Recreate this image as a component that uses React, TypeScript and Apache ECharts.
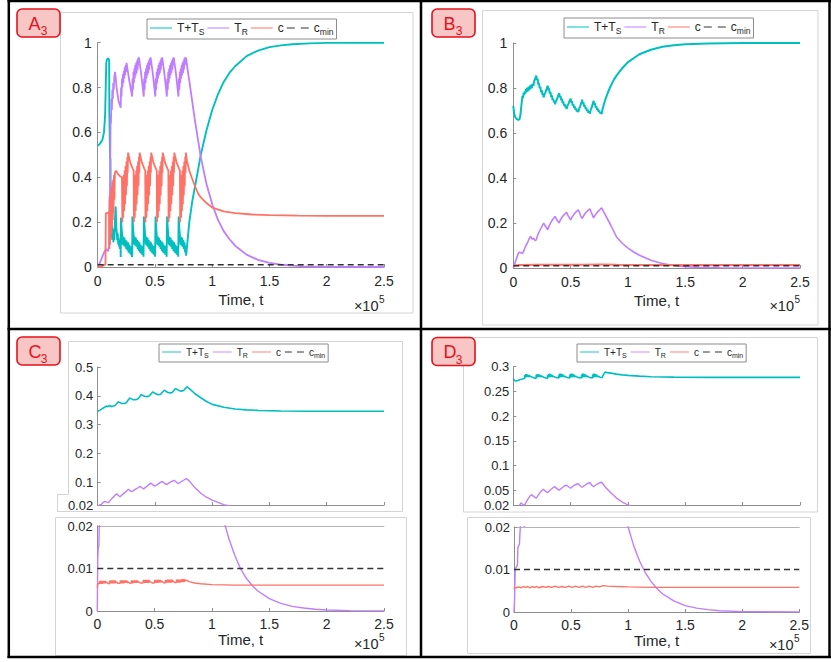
import React, { useEffect, useRef } from 'react';
import * as echarts from 'echarts';

// ---------- tick values ----------
const X_TICKS = [0, 0.5, 1, 1.5, 2, 2.5];
const AB_TICKS = [0, 0.2, 0.4, 0.6, 0.8, 1];
const C_TOP_TICKS = [0.02, 0.1, 0.2, 0.3, 0.4, 0.5];
const D_TOP_TICKS = [0.02, 0.05, 0.1, 0.15, 0.2, 0.25, 0.3];
const LOW_TICKS = [0, 0.01, 0.02];
const SERIES_NAMES = ['T+T_S', 'T_R', 'c', 'c_min'];
const PANEL_LETTERS = ['A', 'B', 'C', 'D'];
const PANEL_INDEX = '3';
const X_NAME = 'Time, t';

// c_min threshold
const C_MIN = [[0, 0.01], [2.5, 0.01]];

// ---------- Panel A (time in units of 1e5) ----------
const A_TTS = [
  [0,0.54],[0.02,0.55],[0.04,0.565],[0.055,0.6],[0.065,0.68],[0.07,0.8],[0.075,0.91],[0.08,0.925],[0.095,0.93],[0.1,0.92],
  [0.102,0.68],[0.106,0.68],[0.108,0.49],[0.111,0.48],[0.114,0.3],[0.117,0.18],[0.121,0.13],[0.125,0.19],[0.129,0.12],[0.133,0.17],
  [0.137,0.11],[0.141,0.15],[0.145,0.12],[0.152,0.22],[0.157,0.27],[0.162,0.18],[0.167,0.15],[0.171,0.12],[0.175,0.15],[0.179,0.1],
  [0.183,0.13],[0.187,0.09],[0.191,0.12],[0.195,0.08],[0.199,0.1],
  [0.201,0.045],[0.203,0.22],[0.209,0.17],[0.215,0.135],[0.219,0.1],[0.224,0.135],[0.229,0.095],[0.234,0.13],[0.239,0.09],[0.244,0.12],
  [0.249,0.08],[0.254,0.115],[0.259,0.075],[0.264,0.11],[0.269,0.065],[0.274,0.1],[0.279,0.06],[0.284,0.095],[0.289,0.055],[0.294,0.09],[0.299,0.048],
  [0.301,0.045],[0.303,0.225],[0.309,0.17],[0.315,0.135],[0.319,0.1],[0.324,0.135],[0.329,0.095],[0.334,0.13],[0.339,0.09],[0.344,0.12],
  [0.349,0.08],[0.354,0.115],[0.359,0.072],[0.364,0.11],[0.369,0.065],[0.374,0.1],[0.379,0.06],[0.384,0.095],[0.389,0.055],[0.394,0.09],[0.4,0.046],
  [0.402,0.045],[0.404,0.225],[0.41,0.17],[0.416,0.135],[0.42,0.1],[0.425,0.135],[0.43,0.095],[0.435,0.13],[0.44,0.088],[0.445,0.12],
  [0.45,0.08],[0.455,0.115],[0.46,0.072],[0.465,0.11],[0.47,0.065],[0.475,0.1],[0.48,0.06],[0.485,0.095],[0.49,0.055],[0.495,0.09],[0.501,0.046],
  [0.503,0.045],[0.505,0.225],[0.511,0.17],[0.517,0.135],[0.521,0.1],[0.526,0.135],[0.531,0.095],[0.536,0.13],[0.541,0.088],[0.546,0.12],
  [0.551,0.08],[0.556,0.115],[0.561,0.072],[0.566,0.11],[0.571,0.065],[0.576,0.1],[0.581,0.06],[0.586,0.095],[0.591,0.055],[0.596,0.09],[0.602,0.046],
  [0.604,0.045],[0.606,0.225],[0.612,0.17],[0.618,0.135],[0.622,0.1],[0.627,0.135],[0.632,0.095],[0.637,0.13],[0.642,0.088],[0.647,0.12],
  [0.652,0.08],[0.657,0.115],[0.662,0.072],[0.667,0.11],[0.672,0.065],[0.677,0.1],[0.682,0.06],[0.687,0.095],[0.692,0.055],[0.697,0.09],[0.703,0.046],
  [0.705,0.045],[0.707,0.225],[0.713,0.17],[0.719,0.135],[0.723,0.1],[0.728,0.135],[0.733,0.095],[0.738,0.13],[0.743,0.088],[0.748,0.12],
  [0.753,0.08],[0.758,0.11],[0.763,0.065],[0.768,0.095],[0.772,0.05],
  [0.785,0.12],[0.8,0.2],[0.825,0.29],[0.85,0.36],[0.875,0.43],[0.9,0.5],[0.95,0.61],[1.0,0.7],[1.05,0.77],[1.1,0.825],
  [1.15,0.865],[1.2,0.895],[1.3,0.94],[1.4,0.965],[1.5,0.98],[1.6,0.988],[1.7,0.993],[1.85,0.997],[2.0,0.999],[2.25,1.0],[2.5,1.0]
];
const A_TR = [
  [0,0],[0.02,0.02],[0.04,0.045],[0.06,0.07],[0.075,0.08],[0.09,0.07],[0.1,0.09],[0.103,0.31],[0.107,0.32],[0.11,0.5],
  [0.113,0.68],[0.116,0.64],[0.12,0.75],[0.124,0.7],[0.128,0.79],[0.132,0.75],[0.136,0.82],[0.14,0.79],[0.145,0.85],[0.152,0.87],
  [0.165,0.8],[0.182,0.74],[0.201,0.71],
  [0.204,0.8],[0.208,0.76],[0.212,0.84],[0.216,0.8],[0.22,0.86],[0.224,0.82],[0.228,0.875],[0.232,0.84],[0.236,0.89],[0.24,0.855],
  [0.244,0.9],[0.248,0.87],[0.252,0.91],[0.276,0.83],[0.301,0.76],
  [0.304,0.84],[0.308,0.79],[0.312,0.87],[0.316,0.82],[0.32,0.885],[0.324,0.84],[0.328,0.9],[0.332,0.855],[0.336,0.91],[0.34,0.865],
  [0.344,0.92],[0.348,0.88],[0.352,0.93],[0.356,0.9],[0.36,0.935],[0.38,0.86],[0.402,0.76],
  [0.406,0.84],[0.41,0.79],[0.414,0.87],[0.418,0.82],[0.422,0.885],[0.426,0.84],[0.43,0.9],[0.434,0.855],[0.438,0.91],[0.442,0.865],
  [0.446,0.92],[0.45,0.88],[0.454,0.93],[0.458,0.9],[0.462,0.935],[0.482,0.86],[0.503,0.76],
  [0.507,0.84],[0.511,0.79],[0.515,0.87],[0.519,0.82],[0.523,0.885],[0.527,0.84],[0.531,0.9],[0.535,0.855],[0.539,0.91],[0.543,0.865],
  [0.547,0.92],[0.551,0.88],[0.555,0.93],[0.559,0.9],[0.563,0.935],[0.583,0.86],[0.604,0.76],
  [0.608,0.84],[0.612,0.79],[0.616,0.87],[0.62,0.82],[0.624,0.885],[0.628,0.84],[0.632,0.9],[0.636,0.855],[0.64,0.91],[0.644,0.865],
  [0.648,0.92],[0.652,0.88],[0.656,0.93],[0.66,0.9],[0.664,0.935],[0.684,0.86],[0.705,0.76],
  [0.709,0.84],[0.713,0.79],[0.717,0.87],[0.721,0.82],[0.725,0.885],[0.729,0.84],[0.733,0.9],[0.737,0.855],[0.741,0.91],[0.745,0.865],
  [0.749,0.92],[0.753,0.88],[0.757,0.93],[0.761,0.9],[0.765,0.935],[0.772,0.93],
  [0.785,0.88],[0.8,0.83],[0.825,0.74],[0.85,0.65],[0.875,0.57],[0.9,0.49],[0.95,0.37],[1.0,0.28],[1.05,0.21],[1.1,0.16],
  [1.15,0.125],[1.2,0.095],[1.3,0.055],[1.4,0.032],[1.5,0.018],[1.6,0.01],[1.7,0.006],[1.8,0.003],[2.0,0.001],[2.25,0.0003],[2.5,0]
];
const A_C = [
  [0,0],[0.02,0.002],[0.05,0.006],[0.068,0.012],[0.071,0.24],[0.085,0.24],[0.099,0.245],[0.102,0.08],[0.105,0.3],[0.108,0.1],
  [0.111,0.32],[0.114,0.12],[0.117,0.34],[0.12,0.15],[0.123,0.36],[0.126,0.18],[0.129,0.38],[0.132,0.21],[0.135,0.39],[0.138,0.24],
  [0.142,0.41],[0.146,0.3],[0.15,0.42],[0.16,0.43],[0.175,0.415],[0.195,0.405],[0.212,0.4],
  [0.215,0.2],[0.219,0.38],[0.223,0.22],[0.227,0.41],[0.231,0.25],[0.235,0.43],[0.239,0.28],[0.243,0.45],[0.247,0.32],[0.251,0.47],
  [0.255,0.36],[0.259,0.49],[0.262,0.42],[0.265,0.51],[0.285,0.465],[0.305,0.44],[0.314,0.43],
  [0.316,0.2],[0.32,0.38],[0.324,0.22],[0.328,0.41],[0.332,0.25],[0.336,0.43],[0.34,0.28],[0.344,0.45],[0.348,0.32],[0.352,0.47],
  [0.356,0.36],[0.36,0.49],[0.363,0.42],[0.366,0.51],[0.386,0.465],[0.406,0.44],[0.415,0.43],
  [0.417,0.2],[0.421,0.38],[0.425,0.22],[0.429,0.41],[0.433,0.25],[0.437,0.43],[0.441,0.28],[0.445,0.45],[0.449,0.32],[0.453,0.47],
  [0.457,0.36],[0.461,0.49],[0.464,0.42],[0.467,0.51],[0.487,0.465],[0.507,0.44],[0.516,0.43],
  [0.518,0.2],[0.522,0.38],[0.526,0.22],[0.53,0.41],[0.534,0.25],[0.538,0.43],[0.542,0.28],[0.546,0.45],[0.55,0.32],[0.554,0.47],
  [0.558,0.36],[0.562,0.49],[0.565,0.42],[0.568,0.51],[0.588,0.465],[0.608,0.44],[0.617,0.43],
  [0.619,0.2],[0.623,0.38],[0.627,0.22],[0.631,0.41],[0.635,0.25],[0.639,0.43],[0.643,0.28],[0.647,0.45],[0.651,0.32],[0.655,0.47],
  [0.659,0.36],[0.663,0.49],[0.666,0.42],[0.669,0.51],[0.689,0.465],[0.709,0.44],[0.718,0.43],
  [0.72,0.2],[0.724,0.38],[0.728,0.22],[0.732,0.41],[0.736,0.25],[0.74,0.43],[0.744,0.28],[0.748,0.45],[0.752,0.32],[0.756,0.47],
  [0.76,0.36],[0.764,0.49],[0.767,0.42],[0.77,0.51],
  [0.78,0.47],[0.8,0.43],[0.82,0.4],[0.85,0.36],[0.875,0.33],[0.9,0.31],[0.95,0.285],[1.0,0.265],[1.1,0.248],[1.2,0.24],
  [1.35,0.234],[1.5,0.231],[1.75,0.229],[2.0,0.228],[2.5,0.228]
];

// ---------- Panel B ----------
const B_TTS = [
  [0,0.72],[0.004,0.7],[0.01,0.68],[0.02,0.668],[0.03,0.662],[0.045,0.658],[0.055,0.662],[0.062,0.68],[0.068,0.71],[0.074,0.74],
  [0.08,0.765],[0.085,0.755],[0.09,0.78],[0.095,0.77],[0.1,0.785],[0.105,0.775],[0.11,0.795],[0.115,0.782],[0.12,0.8],[0.126,0.785],
  [0.132,0.805],[0.138,0.79],[0.144,0.81],[0.15,0.795],[0.156,0.815],[0.162,0.8],[0.168,0.818],[0.175,0.81],[0.182,0.83],[0.19,0.84],[0.2,0.855],
  [0.206,0.835],[0.212,0.842],[0.218,0.815],[0.224,0.822],[0.23,0.798],[0.236,0.805],[0.242,0.782],[0.248,0.79],[0.254,0.77],[0.259,0.776],[0.264,0.758],
  [0.272,0.772],[0.279,0.778],[0.286,0.79],[0.293,0.8],[0.3,0.81],
  [0.306,0.79],[0.312,0.798],[0.318,0.775],[0.324,0.782],[0.33,0.76],[0.336,0.767],[0.342,0.747],[0.348,0.753],[0.354,0.737],[0.359,0.742],[0.364,0.728],
  [0.372,0.742],[0.379,0.748],[0.386,0.758],[0.393,0.768],[0.4,0.777],
  [0.406,0.758],[0.412,0.765],[0.418,0.745],[0.424,0.752],[0.43,0.733],[0.436,0.74],[0.442,0.722],[0.448,0.728],[0.454,0.714],[0.459,0.72],[0.465,0.707],
  [0.473,0.722],[0.48,0.728],[0.487,0.738],[0.494,0.746],[0.5,0.752],
  [0.506,0.735],[0.512,0.741],[0.518,0.722],[0.524,0.728],[0.53,0.712],[0.536,0.718],[0.542,0.703],[0.548,0.709],[0.554,0.696],[0.56,0.702],[0.567,0.693],
  [0.575,0.71],[0.582,0.716],[0.589,0.728],[0.595,0.738],[0.6,0.748],
  [0.606,0.73],[0.612,0.736],[0.618,0.717],[0.624,0.723],[0.63,0.707],[0.636,0.713],[0.642,0.698],[0.648,0.704],[0.655,0.69],[0.661,0.696],[0.668,0.686],
  [0.676,0.705],[0.683,0.712],[0.69,0.725],[0.696,0.735],[0.7,0.744],
  [0.706,0.726],[0.712,0.732],[0.718,0.713],[0.724,0.719],[0.73,0.703],[0.736,0.709],[0.742,0.695],[0.748,0.7],[0.755,0.688],[0.762,0.693],[0.77,0.684],
  [0.78,0.71],[0.8,0.745],[0.825,0.78],[0.85,0.81],[0.875,0.835],[0.9,0.855],[0.95,0.888],[1.0,0.915],[1.1,0.95],[1.2,0.97],
  [1.3,0.983],[1.4,0.99],[1.5,0.994],[1.7,0.998],[2.0,1.0],[2.5,1.0]
];
const B_TR = [
  [0,0],[0.01,0.015],[0.02,0.03],[0.03,0.045],[0.044,0.066],[0.055,0.07],[0.067,0.068],[0.08,0.065],[0.09,0.075],[0.1,0.088],
  [0.11,0.1],[0.12,0.108],[0.13,0.12],[0.14,0.132],[0.151,0.14],[0.165,0.128],[0.178,0.132],[0.19,0.122],[0.2,0.125],
  [0.215,0.15],[0.225,0.16],[0.235,0.17],[0.245,0.18],[0.255,0.19],[0.265,0.2],[0.275,0.19],[0.285,0.182],[0.3,0.17],
  [0.31,0.185],[0.32,0.195],[0.33,0.205],[0.34,0.213],[0.35,0.22],[0.363,0.229],[0.373,0.22],[0.385,0.21],[0.4,0.2],
  [0.41,0.213],[0.42,0.222],[0.43,0.229],[0.44,0.235],[0.452,0.241],[0.465,0.247],[0.475,0.235],[0.487,0.225],[0.5,0.214],
  [0.512,0.226],[0.525,0.236],[0.538,0.244],[0.552,0.252],[0.567,0.259],[0.577,0.247],[0.588,0.232],[0.6,0.22],
  [0.613,0.232],[0.626,0.242],[0.64,0.25],[0.654,0.257],[0.668,0.263],[0.678,0.25],[0.69,0.235],[0.7,0.223],
  [0.714,0.235],[0.728,0.245],[0.742,0.253],[0.756,0.26],[0.77,0.267],
  [0.8,0.238],[0.85,0.19],[0.9,0.138],[0.95,0.11],[1.0,0.088],[1.05,0.071],[1.1,0.057],[1.2,0.034],[1.3,0.02],[1.4,0.011],
  [1.5,0.006],[1.6,0.0035],[1.8,0.001],[2.0,0.0003],[2.5,0]
];
const B_C = [
  [0,0.006],[0.01,0.011],[0.05,0.013],[0.2,0.014],[0.4,0.015],[0.6,0.015],[0.77,0.016],[0.9,0.014],[1.2,0.013],[2.5,0.013]
];

// ---------- Panel C ----------
const C_TTS = [
  [0,0.346],[0.02,0.35],[0.04,0.355],[0.06,0.36],[0.075,0.364],[0.09,0.362],[0.105,0.366],[0.12,0.362],[0.15,0.366],[0.165,0.372],
  [0.18,0.379],[0.19,0.377],[0.21,0.373],[0.23,0.373],[0.25,0.376],[0.265,0.384],[0.28,0.392],[0.29,0.39],[0.31,0.386],[0.33,0.386],
  [0.35,0.389],[0.365,0.396],[0.38,0.404],[0.39,0.402],[0.41,0.398],[0.43,0.397],[0.45,0.399],[0.465,0.406],[0.48,0.413],[0.49,0.411],
  [0.51,0.406],[0.53,0.404],[0.55,0.405],[0.565,0.412],[0.58,0.419],[0.59,0.417],[0.61,0.412],[0.63,0.41],[0.65,0.411],[0.665,0.418],
  [0.68,0.425],[0.69,0.423],[0.71,0.418],[0.73,0.416],[0.75,0.418],[0.765,0.425],[0.78,0.431],[0.8,0.425],[0.85,0.407],[0.9,0.393],
  [0.95,0.38],[1.0,0.37],[1.1,0.36],[1.2,0.354],[1.3,0.351],[1.4,0.349],[1.6,0.347],[1.8,0.346],[2.5,0.346]
];
const C_TR = [
  [0,0],[0.002,0.006],[0.004,0.0125],[0.008,0.0148],[0.014,0.0152],[0.016,0.0185],[0.018,0.021],[0.03,0.022],[0.045,0.028],[0.064,0.033],
  [0.08,0.03],[0.093,0.028],[0.11,0.036],[0.13,0.045],[0.15,0.053],[0.166,0.059],[0.18,0.053],[0.195,0.049],[0.215,0.056],[0.235,0.063],
  [0.25,0.068],[0.268,0.075],[0.283,0.07],[0.297,0.066],[0.315,0.071],[0.335,0.076],[0.352,0.08],[0.37,0.085],[0.385,0.08],[0.4,0.076],
  [0.42,0.082],[0.44,0.089],[0.465,0.096],[0.482,0.09],[0.5,0.086],[0.52,0.091],[0.54,0.097],[0.565,0.102],[0.582,0.096],[0.6,0.091],
  [0.62,0.096],[0.645,0.102],[0.667,0.106],[0.685,0.1],[0.703,0.094],[0.725,0.1],[0.75,0.106],[0.775,0.112],
  [0.8,0.103],[0.85,0.08],[0.9,0.061],[0.95,0.047],[1.0,0.037],[1.05,0.029],[1.1,0.0215],[1.15,0.0168],[1.2,0.013],[1.25,0.0099],
  [1.3,0.0077],[1.35,0.006],[1.4,0.0047],[1.5,0.0029],[1.6,0.0018],[1.7,0.0011],[1.8,0.0007],[1.9,0.0004],[2.0,0.00025],[2.2,0.0001],[2.5,0.00003]
];
const C_C = [
  [0,0.0055],[0.003,0.0064],[0.012,0.0064],[0.018,0.0066],
  [0.022,0.0071],[0.026,0.0064],[0.03,0.0071],[0.034,0.0064],[0.038,0.0071],[0.042,0.0064],[0.046,0.0071],[0.05,0.0065],[0.054,0.0071],[0.058,0.0065],
  [0.062,0.0071],[0.066,0.0065],[0.07,0.0071],[0.074,0.0065],[0.078,0.0069],[0.09,0.0065],[0.104,0.0064],
  [0.108,0.0071],[0.112,0.0065],[0.116,0.0072],[0.12,0.0065],[0.124,0.0072],[0.128,0.0065],[0.132,0.0072],[0.136,0.0065],[0.14,0.0072],[0.144,0.0065],
  [0.148,0.0072],[0.152,0.0065],[0.156,0.0072],[0.16,0.0066],[0.164,0.0069],[0.18,0.0065],[0.198,0.0065],
  [0.202,0.0072],[0.206,0.0065],[0.21,0.0072],[0.214,0.0065],[0.218,0.0072],[0.222,0.0065],[0.226,0.0072],[0.23,0.0065],[0.234,0.0072],[0.238,0.0066],
  [0.242,0.0072],[0.246,0.0066],[0.25,0.0072],[0.254,0.0066],[0.258,0.0072],[0.262,0.0066],[0.266,0.0069],[0.28,0.0066],[0.296,0.0065],
  [0.3,0.0072],[0.304,0.0065],[0.308,0.0072],[0.312,0.0066],[0.316,0.0072],[0.32,0.0066],[0.324,0.0072],[0.328,0.0066],[0.332,0.0072],[0.336,0.0066],
  [0.34,0.0072],[0.344,0.0066],[0.348,0.0072],[0.352,0.0066],[0.355,0.007],[0.375,0.0066],[0.398,0.0066],
  [0.402,0.0073],[0.406,0.0066],[0.41,0.0073],[0.414,0.0066],[0.418,0.0073],[0.422,0.0066],[0.426,0.0073],[0.43,0.0066],[0.434,0.0073],[0.438,0.0066],
  [0.442,0.0073],[0.446,0.0066],[0.45,0.0073],[0.454,0.0067],[0.457,0.007],[0.478,0.0066],[0.498,0.0066],
  [0.502,0.0073],[0.506,0.0066],[0.51,0.0073],[0.514,0.0066],[0.518,0.0073],[0.522,0.0066],[0.526,0.0073],[0.53,0.0067],[0.534,0.0073],[0.538,0.0067],
  [0.542,0.0073],[0.546,0.0067],[0.55,0.0073],[0.554,0.0067],[0.558,0.0071],[0.575,0.0067],[0.592,0.0066],
  [0.596,0.0073],[0.6,0.0066],[0.604,0.0073],[0.608,0.0067],[0.612,0.0074],[0.616,0.0067],[0.62,0.0074],[0.624,0.0067],[0.628,0.0074],[0.632,0.0067],
  [0.636,0.0074],[0.64,0.0067],[0.644,0.0074],[0.648,0.0067],[0.652,0.0074],[0.656,0.0068],[0.66,0.0071],[0.675,0.0067],[0.688,0.0067],
  [0.692,0.0074],[0.696,0.0067],[0.7,0.0074],[0.704,0.0067],[0.708,0.0074],[0.712,0.0067],[0.716,0.0074],[0.72,0.0067],[0.724,0.0074],[0.728,0.0068],
  [0.732,0.0074],[0.736,0.0068],[0.74,0.0075],[0.744,0.0068],[0.748,0.0075],[0.752,0.0068],[0.756,0.0075],[0.76,0.0069],[0.765,0.0073],[0.78,0.0072],
  [0.8,0.0069],[0.85,0.0066],[0.9,0.0064],[1.0,0.0062],[1.2,0.0061],[1.5,0.0061],[2.5,0.0061]
];

// ---------- Panel D ----------
const D_TTS = [
  [0,0.276],[0.01,0.272],[0.025,0.271],[0.04,0.272],[0.06,0.274],[0.08,0.275],[0.098,0.276],
  [0.1,0.283],[0.104,0.278],[0.108,0.285],[0.112,0.279],[0.116,0.285],[0.12,0.279],[0.125,0.284],[0.13,0.279],[0.136,0.283],[0.142,0.279],[0.15,0.281],[0.17,0.278],[0.198,0.276],
  [0.2,0.283],[0.204,0.278],[0.208,0.285],[0.212,0.279],[0.216,0.285],[0.22,0.279],[0.225,0.284],[0.23,0.279],[0.236,0.283],[0.242,0.279],[0.25,0.281],[0.27,0.278],[0.298,0.276],
  [0.3,0.283],[0.304,0.278],[0.308,0.285],[0.312,0.279],[0.316,0.286],[0.32,0.279],[0.325,0.285],[0.33,0.279],[0.336,0.283],[0.342,0.279],[0.35,0.281],[0.37,0.278],[0.396,0.277],
  [0.398,0.284],[0.402,0.278],[0.406,0.286],[0.41,0.279],[0.414,0.286],[0.418,0.279],[0.423,0.285],[0.428,0.279],[0.434,0.284],[0.44,0.279],[0.448,0.281],[0.468,0.278],[0.492,0.277],
  [0.494,0.284],[0.498,0.278],[0.502,0.286],[0.506,0.279],[0.51,0.286],[0.514,0.279],[0.519,0.285],[0.524,0.279],[0.53,0.284],[0.536,0.279],[0.544,0.281],[0.564,0.278],[0.594,0.277],
  [0.596,0.284],[0.6,0.278],[0.604,0.286],[0.608,0.279],[0.612,0.286],[0.616,0.279],[0.621,0.285],[0.626,0.279],[0.632,0.284],[0.638,0.279],[0.646,0.281],[0.666,0.278],[0.69,0.277],
  [0.692,0.284],[0.696,0.278],[0.7,0.286],[0.704,0.279],[0.708,0.286],[0.712,0.279],[0.717,0.285],[0.722,0.279],[0.728,0.284],[0.734,0.279],[0.742,0.281],[0.76,0.278],[0.775,0.278],
  [0.79,0.286],[0.8,0.289],[0.82,0.288],[0.85,0.287],[0.9,0.285],[0.95,0.2835],[1.0,0.2825],[1.1,0.281],[1.2,0.2798],[1.4,0.2788],[1.7,0.2784],[2.5,0.2783]
];
const D_TR = [
  [0,0],[0.005,0.003],[0.01,0.0095],[0.013,0.0103],[0.03,0.011],[0.034,0.0152],[0.048,0.016],[0.052,0.0185],[0.058,0.021],[0.068,0.024],
  [0.08,0.022],[0.09,0.02],[0.1,0.0205],[0.115,0.027],[0.13,0.033],[0.145,0.038],[0.158,0.041],[0.18,0.037],[0.2,0.034],[0.215,0.039],
  [0.23,0.044],[0.247,0.049],[0.262,0.052],[0.28,0.048],[0.3,0.045],[0.315,0.049],[0.33,0.052],[0.347,0.055],[0.363,0.057],[0.38,0.053],
  [0.4,0.05],[0.415,0.053],[0.432,0.056],[0.448,0.059],[0.465,0.06],[0.482,0.057],[0.5,0.054],[0.515,0.057],[0.532,0.06],[0.55,0.062],
  [0.567,0.063],[0.582,0.059],[0.6,0.056],[0.617,0.059],[0.635,0.062],[0.652,0.064],[0.669,0.065],[0.685,0.06],[0.7,0.057],[0.717,0.06],
  [0.735,0.063],[0.752,0.065],[0.77,0.066],[0.8,0.057],[0.85,0.045],[0.9,0.034],[0.95,0.026],[1.0,0.02],[1.05,0.0155],[1.1,0.012],
  [1.15,0.0093],[1.2,0.0072],[1.25,0.0056],[1.3,0.0043],[1.4,0.0026],[1.5,0.0015],[1.6,0.0009],[1.7,0.00055],[1.8,0.0003],[2.0,0.0001],[2.5,0.00002]
];
const D_C = [
  [0,0.0054],[0.005,0.0058],[0.02,0.0057],[0.04,0.0059],[0.06,0.0057],[0.08,0.006],[0.1,0.0058],[0.12,0.006],[0.14,0.0057],[0.16,0.006],
  [0.18,0.0058],[0.2,0.006],[0.22,0.0057],[0.25,0.006],[0.28,0.0058],[0.3,0.006],[0.33,0.0058],[0.36,0.0061],[0.39,0.0058],[0.42,0.006],
  [0.45,0.0058],[0.48,0.0061],[0.51,0.0058],[0.54,0.0061],[0.57,0.0058],[0.6,0.0061],[0.63,0.0058],[0.66,0.0061],[0.69,0.0058],[0.72,0.0061],
  [0.75,0.0059],[0.78,0.0062],[0.82,0.0061],[0.9,0.006],[1.0,0.0059],[1.2,0.0058],[1.5,0.0058],[2.5,0.0058]
];

// ---------- styling ----------
const FONT = '"Liberation Sans", Arial, Helvetica, sans-serif';
const TEAL = '#00BFBF';
const PURPLE = '#C07DFF';
const RED = '#FF7265';
const DASH = '#333333';
const AXIS = '#8e8e8e';
const TXT = '#262626';
const BOX = '#d4d4d4';
const LABEL_RED = '#e5121b';
const LINE_ICON = 'path://M0,0h22v1h-22z';
const DASH_ICON = 'path://M0,0h8v1h-8zM14,0h8v1h-8z';

const legendFormatter = (name: string) => {
  if (name === 'T+T_S') return '{n|T+T}{s|S}';
  if (name === 'T_R') return '{n|T}{s|R}';
  if (name === 'c_min') return '{n|c}{s|min}';
  return '{n|c}';
};

function mkLegend(left: number, top: number, fs: number, sfs: number, iw: number, gap: number) {
  return {
    left, top, orient: 'horizontal', selectedMode: false,
    data: SERIES_NAMES.map((n) => ({ name: n, icon: n === 'c_min' ? DASH_ICON : LINE_ICON })),
    itemWidth: iw, itemHeight: 1.5, itemGap: gap, padding: [3, 3],
    borderColor: '#8c8c8c', borderWidth: 1, backgroundColor: '#fff',
    formatter: legendFormatter,
    itemStyle: { borderWidth: 0 },
    textStyle: {
      color: TXT, fontFamily: FONT, fontSize: fs,
      rich: {
        n: { fontSize: fs, lineHeight: fs + 4, fontFamily: FONT, color: TXT },
        s: { fontSize: sfs, lineHeight: sfs + 2, verticalAlign: 'bottom', fontFamily: FONT, color: TXT },
      },
    },
  };
}

function mkX(gi: number, labels: boolean, nameGap: number, margin: number) {
  return {
    type: 'value', gridIndex: gi, min: 0, max: 2.5, interval: 0.5,
    axisLine: { show: true, onZero: false, lineStyle: { color: AXIS, width: 1 } },
    axisTick: { show: true, inside: true, length: 3, customValues: X_TICKS, lineStyle: { color: AXIS } },
    axisLabel: { show: labels, customValues: X_TICKS, color: TXT, fontSize: 14, fontFamily: FONT, margin,
      formatter: (v: number) => String(v) },
    splitLine: { show: false },
    name: labels ? X_NAME : '', nameLocation: 'middle', nameGap,
    nameTextStyle: { color: TXT, fontSize: 15, fontFamily: FONT },
  };
}
function mkTopLine(gi: number) {
  return {
    type: 'value', gridIndex: gi, min: 0, max: 2.5, position: 'top',
    axisLine: { show: true, onZero: false, lineStyle: { color: '#b4b4b4', width: 1 } },
    axisTick: { show: false }, axisLabel: { show: false }, splitLine: { show: false },
  };
}
function mkY(gi: number, min: number, max: number, ticks: number[], fs: number, margin: number) {
  return {
    type: 'value', gridIndex: gi, min, max,
    axisLine: { show: true, onZero: false, lineStyle: { color: AXIS, width: 1 } },
    axisTick: { show: true, inside: true, length: 3, customValues: ticks, lineStyle: { color: AXIS } },
    axisLabel: { customValues: ticks, color: TXT, fontSize: fs, fontFamily: FONT, margin,
      formatter: (v: number) => String(v) },
    splitLine: { show: false },
  };
}
function mkLine(name: string, data: number[][], idx: number, color: string, width: number, dashed = false) {
  return {
    type: 'line', name, data, xAxisIndex: idx, yAxisIndex: idx,
    symbol: 'none', showSymbol: false, clip: true, silent: true,
    lineStyle: { color, width, type: dashed ? [6, 4] : 'solid' },
    itemStyle: { color },
    emphasis: { disabled: true },
  };
}

function buildGraphics() {
  const g: any[] = [];
  const box = (x: number, y: number, w: number, h: number) =>
    g.push({ type: 'rect', shape: { x, y, width: w, height: h }, style: { fill: 'none', stroke: BOX, lineWidth: 1 }, silent: true, z: 1 });
  box(60.5, 12.5, 352.5, 300.5);
  box(482.5, 10.5, 335.5, 314.5);
  g.push({ type: 'polyline', shape: { points: [[68.5, 341.5], [402.5, 341.5], [402.5, 511.5], [57.5, 511.5], [57.5, 494.5], [68.5, 494.5], [68.5, 341.5]] },
    style: { fill: 'none', stroke: BOX, lineWidth: 1 }, silent: true, z: 1 });
  box(55.5, 517.5, 351, 138);
  box(463.5, 337.5, 354, 174.5);
  box(467.5, 517.5, 343, 136);

  // panel labels
  const offs = [[0, 0], [415, 0], [0, 328], [415, 328.5]];
  PANEL_LETTERS.forEach((L, i) => {
    const [dx, dy] = offs[i];
    g.push({ type: 'rect', shape: { x: 17 + dx, y: 9 + dy, width: 43, height: 28, r: 5 },
      style: { fill: '#f9c6c6', stroke: LABEL_RED, lineWidth: 1.6 }, silent: true, z: 50 });
    g.push({ type: 'text', x: 28.5 + dx, y: 23.5 + dy, silent: true, z: 51,
      style: { text: L, fill: LABEL_RED, fontSize: 18, fontFamily: FONT, align: 'left', verticalAlign: 'middle' } });
    g.push({ type: 'text', x: 40.8 + dx, y: 31 + dy, silent: true, z: 51,
      style: { text: PANEL_INDEX, fill: LABEL_RED, fontSize: 12, fontFamily: FONT, align: 'left', verticalAlign: 'middle' } });
  });

  // x10^5 multipliers
  const mult = [[378.5, 305.5, 299], [794, 305.5, 299], [378.5, 643.5, 637], [793.5, 645, 638]];
  mult.forEach(([x, y1, y2]) => {
    g.push({ type: 'text', x, y: y1, silent: true, z: 20,
      style: { text: '×10', fill: TXT, fontSize: 14.5, fontFamily: FONT, align: 'right', verticalAlign: 'middle' } });
    g.push({ type: 'text', x: x + 0.5, y: y2, silent: true, z: 20,
      style: { text: '5', fill: TXT, fontSize: 10, fontFamily: FONT, align: 'left', verticalAlign: 'middle' } });
  });

  // black panel frame
  const bl = (x1: number, y1: number, x2: number, y2: number) =>
    g.push({ type: 'line', shape: { x1, y1, x2, y2 }, style: { stroke: '#000', lineWidth: 2.5 }, silent: true, z: 60 });
  bl(7.5, 1, 831, 1);
  bl(8.8, 0, 8.8, 658);
  bl(829.5, 0, 829.5, 658);
  bl(7.5, 657, 831, 657);
  bl(421, 0, 421, 658);
  bl(7.5, 329, 831, 329);
  return g;
}

export default function App() {
  const ref = useRef<HTMLDivElement>(null);
  useEffect(() => {
    if (!ref.current) return;
    const chart = echarts.init(ref.current, null, { renderer: 'svg' });
    const option: any = {
      animation: false,
      backgroundColor: '#ffffff',
      textStyle: { fontFamily: FONT },
      grid: [
        { left: 97.7, top: 42.7, width: 286.3, height: 224.3 },
        { left: 513.3, top: 43, width: 286.7, height: 225 },
        { left: 97.7, top: 367, width: 286.3, height: 138 },
        { left: 97.3, top: 526, width: 286.7, height: 85 },
        { left: 513.3, top: 366.7, width: 286.7, height: 138.3 },
        { left: 514, top: 527, width: 285.3, height: 85 },
      ],
      xAxis: [
        mkX(0, true, 25, 7), mkX(1, true, 25, 7), mkX(2, false, 20, 5),
        mkX(3, true, 21, 6), mkX(4, false, 20, 5), mkX(5, true, 21, 6),
        mkTopLine(3), mkTopLine(5),
      ],
      yAxis: [
        mkY(0, 0, 1, AB_TICKS, 14, 6),
        mkY(1, 0, 1, AB_TICKS, 14, 6),
        mkY(2, 0.02, 0.5, C_TOP_TICKS, 13, 4.5),
        mkY(3, 0, 0.02, LOW_TICKS, 13, 4.5),
        mkY(4, 0.02, 0.3, D_TOP_TICKS, 13, 4),
        mkY(5, 0, 0.02, LOW_TICKS, 13, 4),
      ],
      legend: [
        mkLegend(147, 19, 12, 8.5, 22, 3),
        mkLegend(564, 18, 12, 8.5, 22, 3),
        mkLegend(159, 344, 10, 7, 19, 4),
        mkLegend(577, 344, 10, 7, 19, 4),
      ],
      series: [
        mkLine('T+T_S', A_TTS, 0, TEAL, 1.9),
        mkLine('T_R', A_TR, 0, PURPLE, 1.8),
        mkLine('c', A_C, 0, RED, 1.8),
        mkLine('c_min', C_MIN, 0, DASH, 1.3, true),

        mkLine('T+T_S', B_TTS, 1, TEAL, 2),
        mkLine('T_R', B_TR, 1, PURPLE, 1.6),
        mkLine('c', B_C, 1, RED, 2),
        mkLine('c_min', C_MIN, 1, DASH, 1.3, true),

        mkLine('T+T_S', C_TTS, 2, TEAL, 1.6),
        mkLine('T_R', C_TR, 2, PURPLE, 1.4),
        mkLine('T+T_S', C_TTS, 3, TEAL, 1.6),
        mkLine('T_R', C_TR, 3, PURPLE, 1.4),
        mkLine('c', C_C, 3, RED, 1.4),
        mkLine('c_min', C_MIN, 3, DASH, 1.3, true),

        mkLine('T+T_S', D_TTS, 4, TEAL, 1.6),
        mkLine('T_R', D_TR, 4, PURPLE, 1.4),
        mkLine('T+T_S', D_TTS, 5, TEAL, 1.6),
        mkLine('T_R', D_TR, 5, PURPLE, 1.4),
        mkLine('c', D_C, 5, RED, 1.4),
        mkLine('c_min', C_MIN, 5, DASH, 1.3, true),
      ],
      graphic: buildGraphics(),
    };
    chart.setOption(option);
    return () => chart.dispose();
  }, []);
  return (
    <div
      ref={ref}
      style={{ position: 'absolute', left: 0, top: 0, width: 831, height: 662, background: '#fff' }}
    />
  );
}
